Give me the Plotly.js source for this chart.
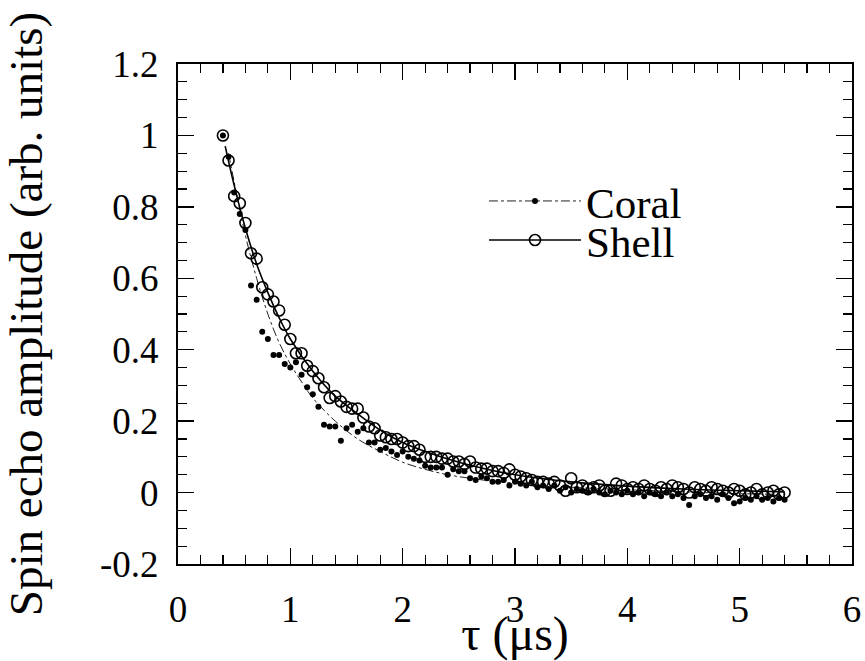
<!DOCTYPE html>
<html>
<head>
<meta charset="utf-8">
<script src="https://cdn.plot.ly/plotly-3.0.1.min.js"></script>
<style>html,body{margin:0;padding:0;background:#fff;}#chart{width:865px;height:661px;}</style>
</head>
<body>
<div id="chart"></div>
<script>
// Measured data (tau in microseconds)
const shellTau = [0.40,0.45,0.50,0.55,0.60,0.65,0.70,0.75,0.80,0.85,0.90,0.95,1.00,1.05,1.10,1.15,1.20,1.25,1.30,1.35,1.40,1.45,1.50,1.55,1.60,1.65,1.70,1.75,1.80,1.85,1.90,1.95,2.00,2.05,2.10,2.15,2.20,2.25,2.30,2.35,2.40,2.45,2.50,2.55,2.60,2.65,2.70,2.75,2.80,2.85,2.90,2.95,3.00,3.05,3.10,3.15,3.20,3.25,3.30,3.35,3.40,3.45,3.50,3.55,3.60,3.65,3.70,3.75,3.80,3.85,3.90,3.95,4.00,4.05,4.10,4.15,4.20,4.25,4.30,4.35,4.40,4.45,4.50,4.55,4.60,4.65,4.70,4.75,4.80,4.85,4.90,4.95,5.00,5.05,5.10,5.15,5.20,5.25,5.30,5.35,5.40];
const shellAmp = [1.00,0.93,0.83,0.81,0.755,0.67,0.655,0.575,0.555,0.535,0.51,0.47,0.43,0.39,0.39,0.355,0.34,0.32,0.295,0.265,0.27,0.255,0.24,0.235,0.235,0.21,0.185,0.18,0.16,0.155,0.15,0.15,0.14,0.13,0.13,0.12,0.10,0.10,0.10,0.095,0.095,0.087,0.087,0.08,0.087,0.07,0.067,0.067,0.06,0.06,0.055,0.065,0.05,0.045,0.04,0.035,0.03,0.03,0.025,0.03,0.02,0.005,0.04,0.015,0.02,0.01,0.015,0.02,0.005,0.005,0.025,0.02,0.01,0.015,0.01,0.02,0.01,0.005,0.015,0.01,0.02,0.015,0.01,0.0,0.015,0.01,0.005,0.015,0.01,0.005,0.0,0.01,0.005,-0.005,0.0,0.01,-0.005,0.0,0.005,-0.005,0.0];

const coralTau = [0.40,0.45,0.50,0.55,0.60,0.65,0.70,0.75,0.80,0.85,0.90,0.95,1.00,1.05,1.10,1.15,1.20,1.25,1.30,1.35,1.40,1.45,1.50,1.55,1.60,1.65,1.70,1.75,1.80,1.85,1.90,1.95,2.00,2.05,2.10,2.15,2.20,2.25,2.30,2.35,2.40,2.45,2.50,2.55,2.60,2.65,2.70,2.75,2.80,2.85,2.90,2.95,3.00,3.05,3.10,3.15,3.20,3.25,3.30,3.35,3.40,3.45,3.50,3.55,3.60,3.65,3.70,3.75,3.80,3.85,3.90,3.95,4.00,4.05,4.10,4.15,4.20,4.25,4.30,4.35,4.40,4.45,4.50,4.55,4.60,4.65,4.70,4.75,4.80,4.85,4.90,4.95,5.00,5.05,5.10,5.15,5.20,5.25,5.30,5.35,5.40];
const coralAmp = [1.00,0.94,0.84,0.78,0.735,0.58,0.54,0.45,0.43,0.385,0.385,0.36,0.35,0.365,0.33,0.295,0.275,0.24,0.19,0.185,0.185,0.145,0.18,0.19,0.17,0.18,0.14,0.14,0.12,0.125,0.115,0.105,0.115,0.10,0.095,0.09,0.075,0.07,0.07,0.07,0.05,0.065,0.06,0.06,0.04,0.035,0.045,0.04,0.03,0.03,0.035,0.02,0.03,0.025,0.02,0.03,0.015,0.02,0.01,0.02,0.005,0.015,0.0,0.01,0.005,0.0,0.01,0.0,-0.005,0.005,0.0,-0.005,0.005,-0.005,0.0,-0.01,0.0,-0.005,-0.01,0.0,-0.01,-0.005,-0.015,-0.035,-0.01,-0.005,-0.015,-0.01,-0.02,-0.005,-0.015,-0.03,-0.025,-0.015,-0.02,-0.01,-0.02,-0.015,-0.025,-0.015,-0.02];

// Fitted curves
const shellFitTau = [0.42,0.50,0.60,0.70,0.80,0.90,1.00,1.20,1.40,1.60,1.80,2.00,2.20,2.50,2.80,3.00,3.50,4.00,4.50,5.00,5.40];
const shellFitAmp = [0.97,0.86,0.74,0.64,0.56,0.49,0.43,0.34,0.27,0.22,0.175,0.14,0.115,0.085,0.062,0.05,0.03,0.018,0.01,0.005,0.002];
const coralFitTau = [0.45,0.50,0.60,0.70,0.80,0.90,1.00,1.10,1.20,1.40,1.60,1.80,2.00,2.20,2.40,2.60,2.80,3.00,3.50,4.00,4.50,5.00,5.40];
const coralFitAmp = [0.95,0.87,0.72,0.60,0.50,0.42,0.36,0.31,0.265,0.20,0.15,0.115,0.085,0.065,0.05,0.04,0.032,0.026,0.015,0.008,0.002,-0.003,-0.005];

const xTickVals = [0,1,2,3,4,5,6];
const xTickText = ['0','1','2','3','4','5','6'];
const yTickVals = [-0.2,0,0.2,0.4,0.6,0.8,1.0,1.2];
const yTickText = ['-0.2','0','0.2','0.4','0.6','0.8','1','1.2'];

const traces = [
  {x: coralFitTau, y: coralFitAmp, mode:'lines', line:{color:'#222', width:1, dash:'dashdot', shape:'spline'}, showlegend:false, hoverinfo:'skip'},
  {x: shellFitTau, y: shellFitAmp, mode:'lines', line:{color:'#000', width:1.6, shape:'spline'}, showlegend:false, hoverinfo:'skip'},
  {x: coralTau, y: coralAmp, mode:'markers', marker:{symbol:'circle', size:6, color:'#000'}, showlegend:false},
  {x: shellTau, y: shellAmp, mode:'markers', marker:{symbol:'circle-open', size:11, color:'#000', line:{width:1.6}}, showlegend:false},
  {x:[null], y:[null], name:'Coral', mode:'lines+markers', line:{color:'#222', width:1, dash:'dashdot'}, marker:{symbol:'circle', size:6, color:'#000'}, legend:'legend'},
  {x:[null], y:[null], name:'Shell', mode:'lines+markers', line:{color:'#000', width:1.6}, marker:{symbol:'circle-open', size:11, color:'#000', line:{width:1.6}}, legend:'legend2'},
  {x:[null], y:[null], xaxis:'x2', yaxis:'y2', mode:'markers', showlegend:false, hoverinfo:'skip'}
];

function mkAxis(extra) {
  const base = {
    showgrid:false, zeroline:false, showline:true, linecolor:'#000', linewidth:2,
    ticks:'inside', ticklen:16, tickwidth:1.5, tickcolor:'#000',
    tickfont:{family:'Liberation Serif', size:37, color:'#000'}
  };
  return Object.assign(base, extra);
}
function xMinor() { return {dtick:0.2, tick0:0, ticks:'inside', ticklen:9, tickwidth:1.2, tickcolor:'#000', showgrid:false}; }
function yMinor() { return {dtick:0.05, tick0:0, ticks:'inside', ticklen:9, tickwidth:1.2, tickcolor:'#000', showgrid:false}; }

const layout = {
  width:865, height:661,
  margin:{l:178, r:13, t:64, b:97},
  paper_bgcolor:'#fff', plot_bgcolor:'#fff',
  xaxis: mkAxis({
    range:[0,6], tickmode:'array', tickvals:xTickVals, ticktext:xTickText,
    minor:xMinor(), ticklabelstandoff:12,
    title:{text:'τ (μs)', font:{family:'Liberation Serif', size:48, color:'#000'}, standoff:0}
  }),
  yaxis: mkAxis({
    range:[-0.2,1.2], tickmode:'array', tickvals:yTickVals, ticktext:yTickText,
    minor:yMinor(), ticklabelstandoff:10,
    title:{text:'Spin echo amplitude (arb. units)', font:{family:'Liberation Serif', size:47, color:'#000'}, standoff:46}
  }),
  xaxis2: mkAxis({
    overlaying:'x', side:'top', anchor:'y2', range:[0,6], tickmode:'array', tickvals:xTickVals,
    showticklabels:false, minor:xMinor()
  }),
  yaxis2: mkAxis({
    overlaying:'y', side:'right', anchor:'x2', range:[-0.2,1.2], tickmode:'array', tickvals:yTickVals,
    showticklabels:false, minor:yMinor()
  }),
  legend:{x:0.454, xanchor:'left', y:0.726, yanchor:'middle', bgcolor:'rgba(0,0,0,0)', borderwidth:0, itemwidth:92, font:{family:'Liberation Serif', size:43, color:'#000'}},
  legend2:{x:0.454, xanchor:'left', y:0.648, yanchor:'middle', bgcolor:'rgba(0,0,0,0)', borderwidth:0, itemwidth:92, font:{family:'Liberation Serif', size:43, color:'#000'}},
  showlegend:true
};

Plotly.newPlot('chart', traces, layout, {displayModeBar:false, staticPlot:true});
</script>
</body>
</html>
